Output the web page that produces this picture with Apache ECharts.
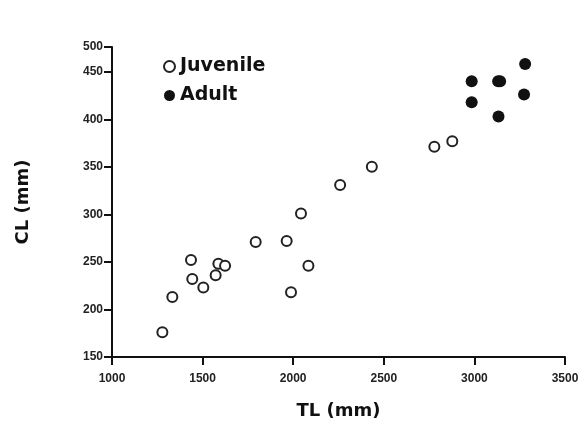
<!DOCTYPE html>
<html>
<head>
<meta charset="utf-8">
<script src="https://cdn.jsdelivr.net/npm/echarts@6/dist/echarts.min.js"></script>
<style>html,body{margin:0;padding:0;background:#fff}#c{width:587px;height:433px}</style>
</head>
<body>
<div id="c"></div>
<script>
const juvenileTL = [1278, 1333, 1436, 1443, 1504, 1572, 1587, 1624, 1793, 1964, 1988, 2043, 2084, 2259, 2434, 2779, 2878];
const juvenileCL = [176, 213, 252, 232, 223, 236, 248, 246, 271, 272, 218, 301, 246, 331, 350, 371, 377];
const adultTL = [2985, 2985, 3131, 3142, 3133, 3274, 3280];
const adultCL = [440, 418, 440, 440, 403, 426, 458];
const xTicks = [1000, 1500, 2000, 2500, 3000, 3500];
const yTicks = [150, 200, 250, 300, 350, 400, 450, 500];
// In the original figure the top "500" tick is drawn compressed, at about CL 476 of the linear scale.
const yTopTickAt = 476;

const pair = (xs, ys) => xs.map((x, i) => [x, ys[i]]);
const yTickPos = yTicks.map(v => v === 500 ? yTopTickAt : v);
const chart = echarts.init(document.getElementById('c'));
const tickFont = {fontFamily: 'Liberation Sans', fontWeight: 'bold', fontSize: 12, color: '#222'};
const titleFont = {fontFamily: 'DejaVu Sans', fontWeight: 'bold', fontSize: 18, color: '#111'};
chart.setOption({
  animation: false,
  backgroundColor: '#fff',
  grid: {left: 112, right: 22, top: 47, bottom: 76},
  legend: {
    orient: 'vertical', left: 158, top: 52, itemGap: 10,
    itemWidth: 11, itemHeight: 11,
    textStyle: {fontFamily: 'DejaVu Sans', fontWeight: 'bold', fontSize: 19, color: '#111'},
    data: [{name: 'Juvenile', icon: 'circle'}, {name: 'Adult', icon: 'circle'}]
  },
  xAxis: {
    type: 'value', min: xTicks[0], max: xTicks[xTicks.length - 1], interval: 500,
    name: 'TL (mm)', nameLocation: 'middle', nameGap: 45, nameTextStyle: titleFont,
    axisLine: {lineStyle: {color: '#111', width: 2}},
    axisTick: {length: 8, lineStyle: {color: '#111', width: 2}},
    axisLabel: Object.assign({margin: 16, formatter: v => String(v)}, tickFont),
    splitLine: {show: false}
  },
  yAxis: {
    type: 'value', min: yTicks[0], max: yTopTickAt,
    name: 'CL (mm)', nameLocation: 'middle', nameGap: 80, nameRotate: 90, nameTextStyle: titleFont,
    axisLine: {lineStyle: {color: '#111', width: 2}},
    axisTick: {length: 8, customValues: yTickPos, lineStyle: {color: '#111', width: 2}},
    axisLabel: Object.assign({margin: 9, customValues: yTickPos,
      formatter: v => String(yTicks[yTickPos.indexOf(v)] ?? v)}, tickFont),
    splitLine: {show: false}
  },
  series: [
    {name: 'Juvenile', type: 'scatter', symbol: 'circle', symbolSize: 10,
     itemStyle: {color: '#fff', borderColor: '#222', borderWidth: 2, opacity: 1},
     data: pair(juvenileTL, juvenileCL)},
    {name: 'Adult', type: 'scatter', symbol: 'circle', symbolSize: 12,
     itemStyle: {color: '#111', opacity: 1},
     data: pair(adultTL, adultCL)}
  ]
});
</script>
</body>
</html>
